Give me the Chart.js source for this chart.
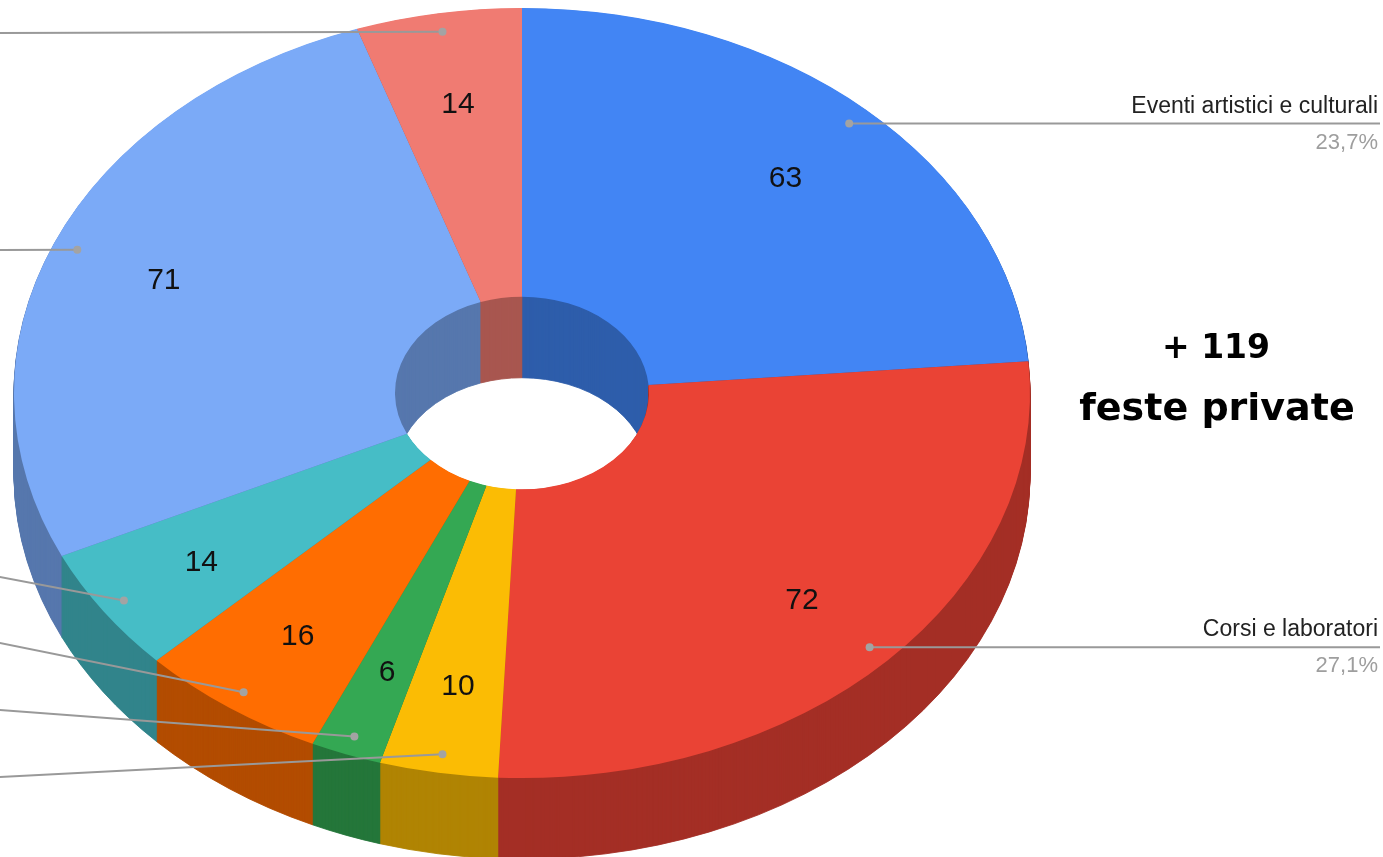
<!DOCTYPE html>
<html>
<head>
<meta charset="utf-8">
<script src="https://cdn.jsdelivr.net/npm/chart.js@4/dist/chart.umd.min.js"></script>
<style>
html,body{margin:0;padding:0;background:#fff;overflow:hidden}
canvas{display:block}
</style>
</head>
<body>
<canvas id="c" width="1383" height="857"></canvas>
<script>
// ---- data ----
const categories = ['Eventi artistici e culturali', 'Corsi e laboratori', '', '', '', '', '', ''];
const values = [63, 72, 10, 6, 16, 14, 71, 14];
const colors = ['#4285F4', '#EA4335', '#FBBC04', '#34A853', '#FF6D01', '#46BDC6', '#7BAAF7', '#F07B72'];
const noteLines = ['+ 119', 'feste private'];

// ---- layout (not data) ----
const CX = 522, CY = 393, SQ = 0.758, DEPTH = 81;
const RIGHT_LABELED = [0, 1];
const LEFT_LEADER_Y = {2: 777, 3: 710, 4: 643, 5: 577, 6: 250, 7: 33};

function darken(hex, f) {
  const n = parseInt(hex.slice(1), 16);
  const r = Math.round(((n >> 16) & 255) * f), g = Math.round(((n >> 8) & 255) * f), b = Math.round((n & 255) * f);
  return 'rgb(' + r + ',' + g + ',' + b + ')';
}
const sideColors = colors.map(c => darken(c, 0.7));

function proj(r, a) {
  return {x: CX + r * Math.cos(a), y: CY + r * Math.sin(a) * SQ};
}

const pie3d = {
  id: 'pie3d',
  beforeDatasetsDraw(chart) {
    const ctx = chart.ctx;
    const meta = chart.getDatasetMeta(0);
    const cx = meta.data[0].x, cy = meta.data[0].y;
    ctx.save();
    ctx.translate(CX, CY);
    ctx.scale(1, SQ);
    ctx.translate(-cx, -cy);
    for (let d = DEPTH; d >= 1; d--) {
      ctx.save();
      ctx.translate(0, d / SQ);
      meta.data.forEach((arc, i) => {
        const proxy = Object.create(arc);
        proxy.options = Object.assign({}, arc.options, {
          backgroundColor: sideColors[i], borderColor: sideColors[i], borderWidth: 1
        });
        arc.draw.call(proxy, ctx);
      });
      ctx.restore();
    }
  },
  afterDatasetsDraw(chart) {
    const ctx = chart.ctx;
    ctx.restore();
    const meta = chart.getDatasetMeta(0);
    const total = values.reduce((a, b) => a + b, 0);
    const geo = meta.data.map(arc => {
      const p = arc.getProps(['startAngle', 'endAngle', 'outerRadius'], true);
      return {mid: (p.startAngle + p.endAngle) / 2, R: p.outerRadius};
    });
    // leader lines
    ctx.save();
    ctx.strokeStyle = '#999999';
    ctx.lineWidth = 2;
    geo.forEach((g, i) => {
      const dot = proj(g.R * 0.951, g.mid);
      ctx.beginPath();
      ctx.moveTo(dot.x, dot.y);
      if (RIGHT_LABELED.includes(i)) {
        ctx.lineTo(1380, dot.y);
      } else {
        const y0 = LEFT_LEADER_Y[i];
        const slope = (y0 - dot.y) / (0 - dot.x);
        ctx.lineTo(-40, y0 + slope * -40);
      }
      ctx.stroke();
      ctx.fillStyle = '#a3a3a3';
      ctx.beginPath();
      ctx.arc(dot.x, dot.y, 4, 0, Math.PI * 2);
      ctx.fill();
      if (RIGHT_LABELED.includes(i)) {
        ctx.textAlign = 'right';
        ctx.textBaseline = 'alphabetic';
        ctx.font = '23px "Liberation Sans", Arial, sans-serif';
        ctx.fillStyle = '#222';
        ctx.fillText(categories[i], 1378, dot.y - 11);
        ctx.font = '22px "Liberation Sans", Arial, sans-serif';
        ctx.fillStyle = '#9e9e9e';
        ctx.fillText((values[i] / total * 100).toFixed(1).replace('.', ',') + '%', 1378, dot.y + 25);
      }
    });
    // value labels
    ctx.font = '30px "Liberation Sans", Arial, sans-serif';
    ctx.textAlign = 'center';
    ctx.textBaseline = 'alphabetic';
    ctx.fillStyle = '#111';
    geo.forEach((g, i) => {
      const p = proj(g.R * 0.766, g.mid);
      ctx.fillText(String(values[i]), p.x, p.y + 11);
    });
    // note
    ctx.fillStyle = '#000';
    ctx.font = 'bold 33px "DejaVu Sans", sans-serif';
    ctx.fillText(noteLines[0], 1216, 358);
    ctx.font = 'bold 38px "DejaVu Sans", sans-serif';
    ctx.fillText(noteLines[1], 1217, 420);
    ctx.restore();
  }
};

new Chart(document.getElementById('c'), {
  type: 'doughnut',
  data: {
    labels: categories,
    datasets: [{
      data: values,
      backgroundColor: colors,
      borderWidth: 0,
      clip: false
    }]
  },
  options: {
    responsive: false,
    animation: false,
    radius: 508,
    cutout: '25%',
    rotation: 0,
    layout: {padding: 0},
    events: [],
    plugins: {legend: {display: false}, tooltip: {enabled: false}}
  },
  plugins: [pie3d]
});
</script>
</body>
</html>
